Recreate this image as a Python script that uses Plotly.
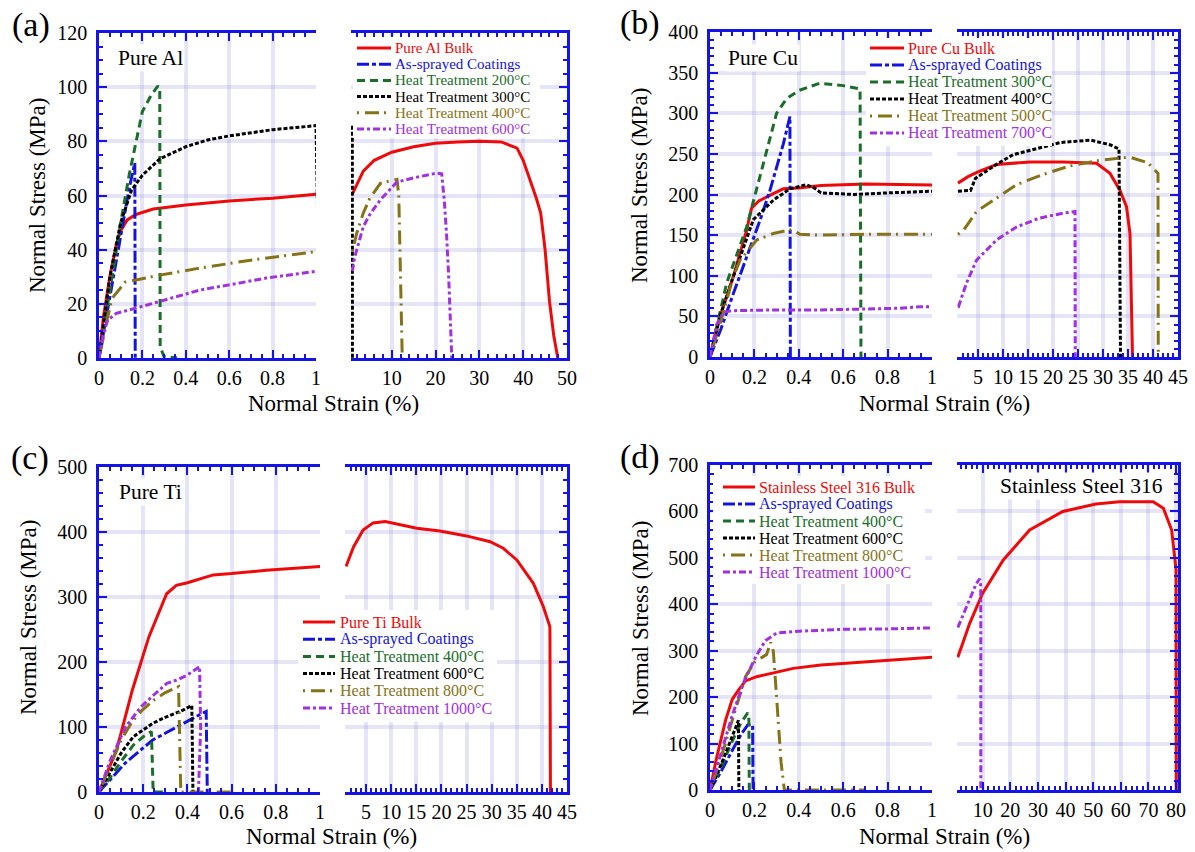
import plotly.graph_objects as go

W, H = 1195, 852
RED = "#ee0a0a"
BLUE = "#1414e0"
GREEN = "#1a6e2a"
BLACK = "#000000"
OLIVE = "#867317"
PURPLE = "#a030e0"
AXIS_BLUE = "#1414e6"
GRID = "rgba(150,150,225,0.25)"
SERIF = "Times New Roman"

# ---------------- (a) Pure Al ----------------
AL_LABELS = ["Pure Al Bulk", "As-sprayed Coatings", "Heat Treatment 200°C",
             "Heat Treatment 300°C", "Heat Treatment 400°C", "Heat Treatment 600°C"]
AL_BULK_X = [0, 0.02, 0.05, 0.08, 0.1, 0.13, 0.17, 0.25, 0.4, 0.6, 0.8, 1,
             2, 3.5, 6, 10, 15, 20, 25, 30, 35, 38.6, 40, 41.6, 43, 44, 45, 46, 47, 47.9]
AL_BULK_Y = [0, 15, 30, 42, 47, 51, 53, 55, 56.5, 58, 59, 60.5,
             64, 69, 73, 76, 78, 79.3, 79.8, 80, 79.8, 77.5, 73, 65.7, 59, 53.5, 40, 21, 8, 0]
AL_SPRAY_X = [0, 0.05, 0.1, 0.14, 0.165, 0.167]
AL_SPRAY_Y = [0, 23, 45, 63, 72, 0]
AL_HT200_X = [0, 0.05, 0.1, 0.14, 0.166, 0.2, 0.24, 0.272, 0.28, 0.282, 0.3, 0.36]
AL_HT200_Y = [0, 25, 50, 68, 78, 91, 97, 100.5, 99, 4, 0.5, 0]
AL_HT300_X = [0, 0.05, 0.1, 0.15, 0.2, 0.28, 0.4, 0.5, 0.6, 0.8, 1, 1.02]
AL_HT300_Y = [0, 30, 50, 62, 67.5, 73.5, 78, 80.5, 82, 84.3, 85.8, 0]
AL_HT400_X = [0, 0.02, 0.04, 0.06, 0.12, 0.28, 0.45, 0.69, 1,
              2, 3.5, 5, 7.4, 10, 11.2, 11.6, 12, 12.4]
AL_HT400_Y = [0, 8, 15, 22, 28, 30.6, 33, 36, 39.3,
              46, 53.5, 59, 64.5, 65.5, 66, 60, 30, 0]
AL_HT600_X = [0, 0.02, 0.04, 0.08, 0.17, 0.28, 0.46, 0.6, 0.77, 1,
              1.5, 3.5, 5, 7.4, 11.2, 15, 20.3, 21.4, 22, 22.5, 23, 23.7]
AL_HT600_Y = [0, 9, 14, 16.5, 18.4, 20.8, 25, 27, 29.5, 32,
              37, 48.5, 53, 58.4, 65, 66.5, 68.3, 68, 58, 46, 30, 0]

# ---------------- (b) Pure Cu ----------------
CU_LABELS = ["Pure Cu Bulk", "As-sprayed Coatings", "Heat Treatment 300°C",
             "Heat Treatment 400°C", "Heat Treatment 500°C", "Heat Treatment 700°C"]
CU_BULK_X = [0, 0.045, 0.105, 0.165, 0.187, 0.22, 0.285, 0.33, 0.4, 0.5, 0.7, 1,
             3, 5.1, 8.7, 15.4, 22, 28.7, 31.4, 33.4, 34.7, 35.4, 35.6, 35.9]
CU_BULK_Y = [0, 50, 99, 156, 183, 192, 201, 207, 208, 211, 213, 214,
             222, 228, 237, 240, 240, 238.5, 226, 205, 185, 152, 66, 0]
CU_SPRAY_X = [0, 0.05, 0.105, 0.165, 0.225, 0.27, 0.3, 0.33, 0.36, 0.362]
CU_SPRAY_Y = [0, 35, 78, 122, 168, 205, 235, 262, 296, 0]
CU_HT300_X = [0, 0.075, 0.165, 0.225, 0.3, 0.345, 0.4, 0.495, 0.6, 0.676, 0.68]
CU_HT300_Y = [0, 91, 160, 222, 300, 318, 328, 337, 334, 330, 0]
CU_HT400_X = [0, 0.045, 0.1, 0.135, 0.195, 0.285, 0.36, 0.435, 0.47, 0.5, 0.65, 0.8, 1,
              3.5, 4.5, 8.7, 12, 16.7, 21.5, 27.5, 31.5, 33.2, 33.5]
CU_HT400_Y = [0, 50, 95, 123, 169, 193, 207, 212, 208, 202, 200, 202, 204,
              205, 220, 237, 249, 256, 264, 267, 261, 256, 0]
CU_HT500_X = [0, 0.05, 0.105, 0.135, 0.21, 0.285, 0.37, 0.405, 0.5, 0.7, 1,
              2, 4.7, 8.7, 12.7, 18, 23.3, 29.3, 35.3, 39, 41, 41.05]
CU_HT500_Y = [0, 45, 99, 119, 144, 152, 157, 151, 150, 151, 151,
              155, 179, 195.5, 212, 224.6, 235, 242, 246, 239, 226, 0]
CU_HT700_X = [0, 0.03, 0.06, 0.1, 0.3, 0.5, 0.7, 0.85, 0.95, 1,
              1.1, 2.7, 4.7, 8.7, 12.7, 17.3, 22, 24.4, 24.45]
CU_HT700_Y = [0, 40, 55, 57, 58, 58, 59, 60, 62, 62,
              62, 91, 119, 144, 160, 171, 177, 179, 0]

# ---------------- (c) Pure Ti ----------------
TI_LABELS = ["Pure Ti Bulk", "As-sprayed Coatings", "Heat Treatment 400°C",
             "Heat Treatment 600°C", "Heat Treatment 800°C", "Heat Treatment 1000°C"]
TI_BULK_X = [0, 0.08, 0.151, 0.226, 0.306, 0.35, 0.4, 0.517, 0.6, 0.757, 1,
             2.5, 4.4, 6.4, 8.8, 11.7, 15.1, 19.7, 25, 29.7, 32.3, 35, 38.3, 40.3, 41.6, 41.7]
TI_BULK_Y = [0, 65, 157, 239, 305, 318, 322, 334, 336, 341, 347,
             377, 403, 414, 416, 411, 405.7, 401.5, 394, 385, 375, 357, 321, 285, 254, 0]
TI_SPRAY_X = [0, 0.12, 0.243, 0.38, 0.45, 0.485, 0.49]
TI_SPRAY_Y = [0, 45, 80, 106, 118, 124, 0]
TI_HT400_X = [0, 0.05, 0.1, 0.155, 0.2, 0.237, 0.24, 0.245, 0.3]
TI_HT400_Y = [0, 22, 47, 72, 85, 93, 60, 0, 0]
TI_HT600_X = [0, 0.05, 0.1, 0.155, 0.245, 0.3, 0.38, 0.42, 0.425]
TI_HT600_Y = [0, 30, 60, 85, 106, 115, 126, 133, 0]
TI_HT800_X = [0, 0.05, 0.1, 0.15, 0.196, 0.25, 0.3, 0.36, 0.365, 0.37, 0.6]
TI_HT800_Y = [0, 40, 80, 108, 126, 142, 153, 162, 100, 0, 0]
TI_HT1000_X = [0, 0.05, 0.12, 0.19, 0.25, 0.306, 0.35, 0.4, 0.455, 0.46, 0.45]
TI_HT1000_Y = [0, 48, 100, 131, 150, 167, 172, 180, 193, 100, 0]

# ---------------- (d) Stainless Steel 316 ----------------
SS_LABELS = ["Stainless Steel 316 Bulk", "As-sprayed Coatings", "Heat Treatment 400°C",
             "Heat Treatment 600°C", "Heat Treatment 800°C", "Heat Treatment 1000°C"]
SS_BULK_X = [0, 0.03, 0.07, 0.1, 0.128, 0.16, 0.21, 0.3, 0.375, 0.5, 0.706, 0.85, 1,
             2.7, 5.3, 10, 17.4, 27, 39, 51, 59.6, 71.7, 75.4, 78.4, 80, 80.1]
SS_BULK_Y = [0, 70, 150, 195, 215, 235, 244, 254, 262, 269, 276, 281, 286,
             315, 359, 424, 495, 560, 600, 616, 621, 621, 607, 560, 474, 0]
SS_SPRAY_X = [0, 0.05, 0.1, 0.14, 0.17, 0.192, 0.194]
SS_SPRAY_Y = [0, 40, 85, 120, 140, 140, 0]
SS_HT400_X = [0, 0.05, 0.1, 0.14, 0.17, 0.175, 0.177, 0.2]
SS_HT400_Y = [0, 50, 105, 145, 166, 160, 0, 0]
SS_HT600_X = [0, 0.05, 0.1, 0.128, 0.13]
SS_HT600_Y = [0, 55, 115, 150, 0]
SS_HT800_X = [0, 0.05, 0.1, 0.16, 0.2, 0.255, 0.273, 0.285, 0.3, 0.32, 0.335, 0.7]
SS_HT800_Y = [0, 70, 150, 244, 275, 292, 318, 300, 200, 60, 0, 0]
SS_HT1000_X = [0, 0.05, 0.1, 0.15, 0.207, 0.25, 0.3, 0.4, 0.6, 0.8, 1,
               4.1, 7.7, 8.9, 9.3, 9.32]
SS_HT1000_Y = [0, 80, 160, 230, 288, 322, 338, 342, 346, 347, 350,
               395, 445, 455, 440, 0]

STYLES = [
    dict(color=RED, dash="solid"),
    dict(color=BLUE, dash="12px,3px,4px,3px"),
    dict(color=GREEN, dash="8px,5px"),
    dict(color=BLACK, dash="4px,2px"),
    dict(color=OLIVE, dash="2px,6px,14px,5px"),
    dict(color=PURPLE, dash="7px,3px,3px,3px"),
]


def px(x):
    return x / W


def py(y):
    return 1 - y / H


PANELS = [
    dict(letter="(a)", tag="Pure Al", labels=AL_LABELS,
         series=[(AL_BULK_X, AL_BULK_Y), (AL_SPRAY_X, AL_SPRAY_Y), (AL_HT200_X, AL_HT200_Y),
                 (AL_HT300_X, AL_HT300_Y), (AL_HT400_X, AL_HT400_Y), (AL_HT600_X, AL_HT600_Y)],
         ymax=120, ydt=20, yminor=5, xr_range=[0.7, 50], xr_ticks=[10, 20, 30, 40, 50], xr_minor=2,
         xl=(99, 316), xr=(351, 567), yt=33, yb=358,
         letter_pos=(31, 25), tag_pos=(150, 58), ytitle_pos=(37, 196), xtitle_pos=(333, 403),
         leg=dict(l0=357, l1=391, tx=393, y0=48, step=16.2, size=15, bg=(353, 37, 540, 138))),
    dict(letter="(b)", tag="Pure Cu", labels=CU_LABELS,
         series=[(CU_BULK_X, CU_BULK_Y), (CU_SPRAY_X, CU_SPRAY_Y), (CU_HT300_X, CU_HT300_Y),
                 (CU_HT400_X, CU_HT400_Y), (CU_HT500_X, CU_HT500_Y), (CU_HT700_X, CU_HT700_Y)],
         ymax=400, ydt=50, yminor=10, xr_range=[0.8, 45], xr_ticks=[5, 10, 15, 20, 25, 30, 35, 40, 45], xr_minor=1,
         xl=(710, 932), xr=(957, 1178), yt=32, yb=357,
         letter_pos=(640, 23), tag_pos=(763, 58), ytitle_pos=(640, 186), xtitle_pos=(944, 403),
         leg=dict(l0=870, l1=904, tx=906, y0=48, step=17, size=16, bg=(866, 38, 1052, 146))),
    dict(letter="(c)", tag="Pure Ti", labels=TI_LABELS,
         series=[(TI_BULK_X, TI_BULK_Y), (TI_SPRAY_X, TI_SPRAY_Y), (TI_HT400_X, TI_HT400_Y),
                 (TI_HT600_X, TI_HT600_Y), (TI_HT800_X, TI_HT800_Y), (TI_HT1000_X, TI_HT1000_Y)],
         ymax=500, ydt=100, yminor=20, xr_range=[0.8, 45], xr_ticks=[5, 10, 15, 20, 25, 30, 35, 40, 45], xr_minor=1,
         xl=(99, 320), xr=(345, 567), yt=467, yb=792,
         letter_pos=(30, 458), tag_pos=(150, 492), ytitle_pos=(28, 618), xtitle_pos=(331, 836),
         leg=dict(l0=303, l1=335, tx=338, y0=622, step=17.2, size=16, bg=(298, 610, 497, 722))),
    dict(letter="(d)", tag="Stainless Steel 316", labels=SS_LABELS,
         series=[(SS_BULK_X, SS_BULK_Y), (SS_SPRAY_X, SS_SPRAY_Y), (SS_HT400_X, SS_HT400_Y),
                 (SS_HT600_X, SS_HT600_Y), (SS_HT800_X, SS_HT800_Y), (SS_HT1000_X, SS_HT1000_Y)],
         ymax=700, ydt=100, yminor=20, xr_range=[0.7, 80.7], xr_ticks=[10, 20, 30, 40, 50, 60, 70, 80], xr_minor=2,
         xl=(710, 932), xr=(957, 1178), yt=465, yb=790,
         letter_pos=(640, 457), tag_pos=(1081, 486), ytitle_pos=(640, 619), xtitle_pos=(944, 836),
         leg=dict(l0=723, l1=755, tx=757, y0=487, step=17, size=16, bg=(713, 476, 925, 584))),
]

fig = go.Figure()
layout = {}
shapes = []
annotations = []

common = dict(showline=True, linecolor=AXIS_BLUE, linewidth=2.5, ticks="inside", tickcolor=AXIS_BLUE,
              ticklen=8, tickwidth=2, showgrid=True, gridcolor=GRID, gridwidth=4, zeroline=False,
              automargin=False,
              tickfont=dict(family=SERIF, size=20, color="black"), fixedrange=True)

for i, P in enumerate(PANELS):
    nl, nr = 2 * i + 1, 2 * i + 2
    xl_ref = "x" if nl == 1 else f"x{nl}"
    yl_ref = "y" if nl == 1 else f"y{nl}"
    xr_ref, yr_ref = f"x{nr}", f"y{nr}"
    xl_key = "xaxis" if nl == 1 else f"xaxis{nl}"
    yl_key = "yaxis" if nl == 1 else f"yaxis{nl}"
    ydom = [py(P["yb"]), py(P["yt"])]
    minor_y = dict(dtick=P["yminor"], ticks="inside", ticklen=4, tickcolor=AXIS_BLUE, tickwidth=1.5, showgrid=False)

    layout[xl_key] = dict(common, domain=[px(P["xl"][0]), px(P["xl"][1])], anchor=yl_ref, range=[0, 1],
                          dtick=0.2, tick0=0, mirror="allticks", ticklabelstandoff=0,
                          minor=dict(dtick=0.05, ticks="inside", ticklen=4, tickcolor=AXIS_BLUE,
                                     tickwidth=1.5, showgrid=False))
    layout[yl_key] = dict(common, domain=ydom, anchor=xl_ref, range=[0, P["ymax"]], dtick=P["ydt"],
                          tick0=0, side="left", ticklabelstandoff=5, minor=minor_y)
    layout[f"xaxis{nr}"] = dict(common, domain=[px(P["xr"][0]), px(P["xr"][1])], anchor=yr_ref,
                                range=P["xr_range"], tickvals=P["xr_ticks"], mirror="allticks",
                                ticklabelstandoff=0,
                                minor=dict(dtick=P["xr_minor"], tick0=0, ticks="inside", ticklen=4,
                                           tickcolor=AXIS_BLUE, tickwidth=1.5, showgrid=False))
    layout[f"yaxis{nr}"] = dict(common, domain=ydom, anchor=xr_ref, range=[0, P["ymax"]], dtick=P["ydt"],
                                tick0=0, side="right", showticklabels=False, minor=minor_y)

    for (xs, ys), st in zip(P["series"], STYLES):
        line = dict(color=st["color"], width=3, dash=st["dash"])
        fig.add_trace(go.Scatter(x=xs, y=ys, mode="lines", line=line, xaxis=xl_ref, yaxis=yl_ref,
                                 showlegend=False, hoverinfo="skip"))
        if max(xs) > 1:
            # the broken-axis right part shows the strain from 1 % onwards
            xr_pts = [x for x in xs if x >= 1]
            yr_pts = [y for x, y in zip(xs, ys) if x >= 1]
            fig.add_trace(go.Scatter(x=xr_pts, y=yr_pts, mode="lines", line=line, xaxis=xr_ref, yaxis=yr_ref,
                                     showlegend=False, hoverinfo="skip"))

    annotations.append(dict(text=P["letter"], x=px(P["letter_pos"][0]), y=py(P["letter_pos"][1]),
                            xref="paper", yref="paper", showarrow=False, xanchor="center", yanchor="middle",
                            font=dict(family=SERIF, size=34, color="black")))
    annotations.append(dict(text=P["tag"], x=px(P["tag_pos"][0]), y=py(P["tag_pos"][1]),
                            xref="paper", yref="paper", showarrow=False, xanchor="center", yanchor="middle",
                            bgcolor="white", font=dict(family=SERIF, size=21.5, color="black")))
    annotations.append(dict(text="Normal Stress (MPa)", x=px(P["ytitle_pos"][0]), y=py(P["ytitle_pos"][1]),
                            xref="paper", yref="paper", showarrow=False, textangle=-90,
                            xanchor="center", yanchor="middle",
                            font=dict(family=SERIF, size=23, color="black")))
    annotations.append(dict(text="Normal Strain (%)", x=px(P["xtitle_pos"][0]), y=py(P["xtitle_pos"][1]),
                            xref="paper", yref="paper", showarrow=False,
                            xanchor="center", yanchor="middle",
                            font=dict(family=SERIF, size=23, color="black")))

    L = P["leg"]
    bx0, by0, bx1, by1 = L["bg"]
    shapes.append(dict(type="rect", xref="paper", yref="paper", x0=px(bx0), x1=px(bx1), y0=py(by1), y1=py(by0),
                       fillcolor="white", line=dict(width=0), layer="above"))
    for k, (lab, st) in enumerate(zip(P["labels"], STYLES)):
        yy = L["y0"] + k * L["step"]
        shapes.append(dict(type="line", xref="paper", yref="paper", x0=px(L["l0"]), x1=px(L["l1"]),
                           y0=py(yy), y1=py(yy), layer="above",
                           line=dict(color=st["color"], width=3, dash=st["dash"])))
        annotations.append(dict(text=lab, x=px(L["tx"]), y=py(yy), xref="paper", yref="paper",
                                showarrow=False, xanchor="left", yanchor="middle",
                                font=dict(family=SERIF, size=L["size"], color=st["color"])))

fig.update_layout(
    template="none",
    width=W, height=H, autosize=False,
    margin=dict(l=0, r=0, t=0, b=0, autoexpand=False),
    paper_bgcolor="white", plot_bgcolor="white",
    font=dict(family=SERIF, color="black"),
    showlegend=False, shapes=shapes, annotations=annotations,
    **layout,
)

fig.write_html("out.html", config={"displayModeBar": False},
               post_script="document.body.style.margin='0px';")
